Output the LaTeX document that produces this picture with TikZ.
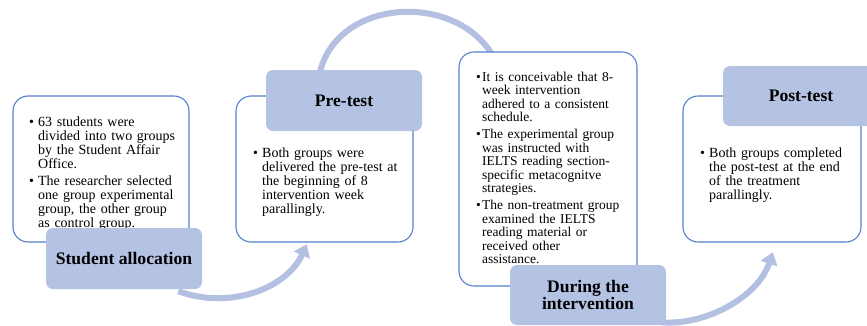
\documentclass[tikz,border=0pt]{standalone}
\usepackage{fontspec}
\setmainfont{Liberation Serif}
\usetikzlibrary{arrows.meta,calc}
\definecolor{lbl}{HTML}{B4C3E3}
\definecolor{arr}{HTML}{B3C0E1}
\definecolor{edgeblue}{HTML}{5580CA}
\newcommand{\bul}[1]{\par\noindent\hangindent=#1\hangafter=1\makebox[#1][l]{\textbullet}\strut}
\newcommand{\gap}{\par\vspace{3.6pt}}
\newcommand{\nl}{\newline}
\begin{document}
\begin{tikzpicture}[x=1pt,y=-1pt,
  whitebox/.style={draw=edgeblue, line width=1.1pt, fill=white, rounded corners=15pt, inner sep=0pt},
  labelbox/.style={fill=lbl, rounded corners=7pt, inner sep=0pt, minimum width=156pt, align=center, font=\fontsize{17.6}{17.5}\selectfont\bfseries},
  bodytext/.style={anchor=north west, inner sep=0pt, text width=175pt, font=\fontsize{14}{13.9}\selectfont},
  bodysmall/.style={anchor=north west, inner sep=0pt, text width=175pt, font=\fontsize{13.5}{13.5}\selectfont},
  flow/.style={draw=arr, line width=6pt},
  flowhead/.style={flow, -{Triangle[width=17pt,length=12pt]}}]
\clip (0,0) rectangle (867,325);
\useasboundingbox (0,0) rectangle (867,325);

% anchor coordinates for the boxes
\coordinate (c1) at (101,169);
\coordinate (c2) at (324.5,169);
\coordinate (c3) at (548,169);
\coordinate (c4) at (772,169);
\coordinate (d1) at (124,258.5);
\coordinate (d2) at (344,100.5);
\coordinate (d3) at (588,295);
\coordinate (d4) at (801,96);

% invisible placeholders to get anchors for the connectors
\path (c1) node[minimum width=176pt, minimum height=146pt, inner sep=0pt] (p1) {};
\path (c2) node[minimum width=177pt, minimum height=146pt, inner sep=0pt] (p2) {};
\path (c3) node[minimum width=178pt, minimum height=234pt, inner sep=0pt] (p3) {};
\path (c4) node[minimum width=178pt, minimum height=146pt, inner sep=0pt] (p4) {};
\path (d1) node[minimum width=156pt, minimum height=61pt, inner sep=0pt] (q1) {};
\path (d2) node[minimum width=156pt, minimum height=61pt, inner sep=0pt] (q2) {};
\path (d3) node[minimum width=156pt, minimum height=60pt, inner sep=0pt] (q3) {};

% connectors
\draw[flowhead] ($(q1.south east)+(-24,2)$) .. controls +(52,19) and +(-20,44) .. ($(p2.south west)+(71,2)$);
\draw[flow] ($(q2.north)+(-24,2)$) .. controls +(20,-80) and +(-25,-80) .. ($(p3.north west)+(41,20)$);
\draw[flowhead] ($(q3.south east)+(-6,-3)$) .. controls +(45,4) and +(-15,45) .. ($(p4.south west)+(90,10)$);

% boxes
\node[whitebox, minimum width=176pt, minimum height=146pt] (b1) at (c1) {};
\node[whitebox, minimum width=177pt, minimum height=146pt] (b2) at (c2) {};
\node[whitebox, minimum width=178pt, minimum height=234pt] (b3) at (c3) {};
\node[whitebox, minimum width=178pt, minimum height=146pt] (b4) at (c4) {};

% body texts
\node[bodytext] (t1) at (29,112.6) {\raggedright\bul{9pt}63 students were\nl divided into two groups\nl by the Student Affair\nl Office.\gap
\bul{9pt}The researcher selected\nl one group experimental\nl group, the other group\nl as control group.\par};
\node[bodytext] (t2) at (253,143.3) {\raggedright\bul{9pt}Both groups were\nl delivered the pre-test at\nl the beginning of 8\nl intervention week\nl parallingly.\par};
\node[bodysmall] (t3) at (476,67.5) {\raggedright\bul{6pt}It is conceivable that 8-\nl week intervention\nl adhered to a consistent\nl schedule.\gap
\bul{6pt}The experimental group\nl was instructed with\nl IELTS reading section-\nl specific metacognitve\nl strategies.\gap
\bul{6pt}The non-treatment group\nl examined the IELTS\nl reading material or\nl received other\nl assistance.\par};
\node[bodytext] (t4) at (700,143.3) {\raggedright\bul{9pt}Both groups completed\nl the post-test at the end\nl of the treatment\nl parallingly.\par};

% labels
\node[labelbox, minimum height=61pt] (l1) at (d1) {Student allocation};
\node[labelbox, minimum height=61pt] (l2) at (d2) {Pre-test};
\node[labelbox, minimum height=60pt] (l3) at (d3) {During the\\intervention};
\node[labelbox, minimum height=60pt] (l4) at (d4) {Post-test};
\end{tikzpicture}
\end{document}
